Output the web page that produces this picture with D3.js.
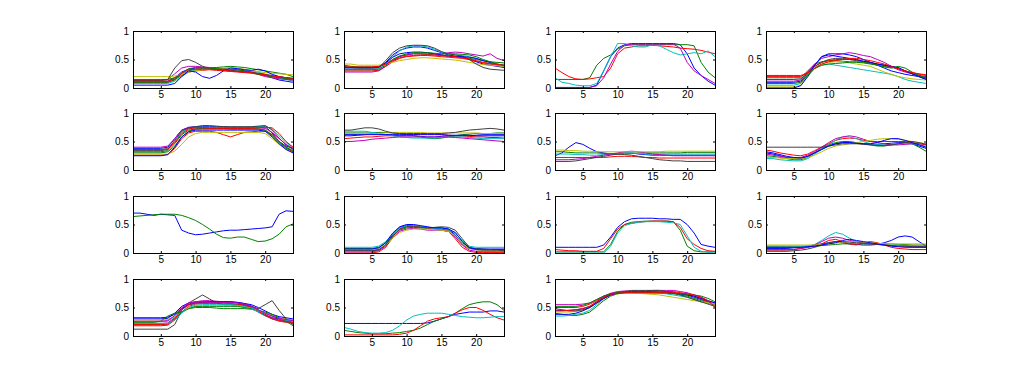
<!DOCTYPE html>
<html>
<head>
<meta charset="utf-8">
<title>Small multiples</title>
<script src="https://cdn.jsdelivr.net/npm/d3@7"></script>
<style>
  body { margin: 0; background: #fff; }
  text { font-family: "Liberation Sans", Arial, sans-serif; font-size: 10px; fill: #000; }
</style>
</head>
<body>
<script>
var xTicks = [5, 10, 15, 20];
var yTicks = [0, 0.5, 1];
var yTickLabels = ["0", "0.5", "1"];
var hours = d3.range(1, 25);
var colorOrder = ["#0000ff", "#008000", "#ff0000", "#00bfbf", "#bf00bf", "#bfbf00", "#404040"];

// one array of series per panel, reading left to right, top to bottom
var panel1 = [
  [.12,.12,.12,.12,.12,.12,.18,.28,.33,.35,.35,.34,.33,.31,.30,.29,.28,.27,.25,.22,.18,.14,.12,.10],
  [.15,.15,.15,.15,.15,.15,.18,.24,.30,.33,.34,.35,.36,.37,.38,.37,.36,.34,.32,.30,.28,.26,.24,.20],
  [.10,.10,.10,.10,.10,.10,.15,.22,.28,.30,.31,.32,.31,.30,.29,.28,.27,.26,.24,.22,.20,.18,.16,.14],
  [.08,.08,.08,.08,.08,.08,.12,.20,.28,.32,.33,.33,.34,.33,.32,.32,.31,.30,.28,.24,.20,.17,.15,.12],
  [.14,.14,.14,.14,.14,.15,.25,.35,.38,.38,.37,.36,.35,.34,.33,.32,.30,.28,.24,.20,.18,.16,.15,.14],
  [.20,.20,.20,.20,.20,.20,.21,.24,.28,.30,.32,.33,.34,.35,.36,.35,.33,.31,.29,.27,.26,.25,.24,.23],
  [.13,.13,.13,.13,.13,.15,.35,.48,.50,.45,.38,.34,.33,.32,.31,.30,.29,.28,.26,.24,.22,.20,.18,.17],
  [.05,.05,.05,.05,.05,.05,.08,.20,.30,.28,.20,.17,.22,.30,.35,.34,.32,.31,.33,.30,.24,.20,.18,.16],
  [.10,.10,.10,.10,.10,.10,.14,.26,.34,.36,.36,.35,.34,.33,.33,.32,.30,.27,.24,.22,.20,.18,.17,.16],
  [.12,.12,.12,.12,.12,.12,.16,.26,.32,.33,.33,.33,.32,.31,.30,.29,.28,.27,.25,.23,.21,.20,.18,.17]
];
var panel2 = [
  [.35,.35,.35,.35,.35,.36,.45,.58,.66,.70,.72,.72,.70,.66,.62,.58,.56,.54,.50,.46,.42,.40,.38,.36],
  [.40,.38,.37,.37,.37,.37,.42,.50,.56,.58,.60,.60,.59,.58,.57,.56,.55,.54,.52,.50,.48,.46,.45,.44],
  [.30,.30,.30,.30,.30,.31,.38,.46,.52,.55,.56,.57,.57,.56,.55,.54,.53,.52,.50,.47,.44,.42,.40,.38],
  [.33,.33,.33,.33,.33,.34,.42,.55,.65,.72,.74,.74,.72,.68,.63,.60,.58,.57,.55,.52,.48,.44,.40,.38],
  [.28,.28,.28,.28,.28,.30,.38,.48,.55,.58,.60,.60,.60,.60,.59,.62,.63,.62,.60,.58,.56,.60,.52,.48],
  [.42,.42,.40,.40,.40,.40,.42,.45,.48,.50,.52,.53,.53,.52,.51,.50,.49,.47,.45,.43,.41,.40,.39,.38],
  [.38,.36,.35,.35,.35,.36,.48,.62,.70,.74,.75,.75,.74,.70,.64,.60,.58,.56,.50,.42,.36,.33,.32,.31],
  [.36,.36,.36,.36,.36,.37,.44,.54,.60,.62,.63,.63,.62,.60,.58,.56,.55,.55,.54,.52,.48,.45,.42,.40],
  [.32,.32,.32,.32,.32,.33,.40,.50,.56,.60,.62,.62,.62,.61,.60,.60,.60,.59,.58,.55,.50,.46,.42,.40],
  [.37,.37,.37,.37,.37,.38,.42,.48,.53,.56,.57,.58,.58,.58,.57,.56,.55,.53,.51,.48,.45,.43,.41,.40]
];
var panel3 = [
  [.01,.01,.01,.01,.01,.01,.05,.30,.55,.70,.76,.78,.78,.78,.78,.78,.78,.78,.76,.60,.35,.22,.12,.05],
  [.15,.15,.15,.15,.15,.18,.40,.52,.58,.68,.74,.76,.76,.76,.76,.76,.76,.76,.76,.76,.74,.45,.28,.18],
  [.35,.27,.20,.16,.15,.16,.18,.20,.35,.60,.70,.72,.74,.74,.75,.74,.73,.72,.70,.69,.68,.66,.63,.60],
  [.18,.10,.08,.05,.04,.04,.08,.30,.55,.78,.78,.74,.72,.72,.76,.74,.68,.62,.58,.60,.62,.60,.65,.55],
  [.00,.00,.00,.00,.00,.01,.04,.18,.42,.64,.75,.77,.77,.77,.77,.77,.77,.77,.70,.45,.30,.22,.15,.08]
];
var panel4 = [
  [.10,.10,.10,.10,.10,.12,.25,.40,.55,.60,.60,.60,.58,.55,.50,.45,.40,.35,.30,.27,.24,.22,.20,.18],
  [.18,.18,.18,.18,.18,.18,.30,.42,.46,.48,.48,.47,.46,.45,.44,.42,.40,.38,.36,.34,.30,.25,.20,.15],
  [.20,.20,.20,.20,.20,.20,.28,.38,.45,.48,.50,.50,.50,.49,.47,.45,.42,.40,.37,.34,.30,.27,.24,.22],
  [.05,.05,.05,.05,.05,.08,.22,.35,.40,.42,.40,.38,.36,.34,.32,.30,.28,.26,.24,.20,.15,.12,.10,.08],
  [.12,.12,.12,.12,.12,.14,.28,.42,.52,.55,.58,.60,.62,.60,.57,.55,.50,.45,.38,.32,.28,.25,.22,.20],
  [.02,.02,.02,.02,.02,.05,.20,.35,.42,.45,.46,.46,.44,.42,.40,.38,.33,.28,.24,.20,.18,.16,.15,.14],
  [.15,.15,.15,.15,.15,.16,.25,.38,.45,.50,.52,.52,.50,.48,.46,.44,.42,.40,.38,.35,.30,.25,.20,.17],
  [.00,.00,.00,.00,.00,.04,.20,.40,.55,.58,.56,.54,.52,.50,.47,.45,.42,.40,.38,.36,.30,.25,.20,.15],
  [.08,.08,.08,.08,.08,.10,.22,.34,.40,.42,.43,.44,.45,.46,.45,.43,.40,.37,.35,.38,.35,.28,.22,.18],
  [.22,.22,.22,.22,.22,.22,.26,.35,.42,.46,.48,.50,.52,.52,.50,.48,.45,.42,.38,.34,.30,.27,.25,.23]
];
var panel5 = [
  [.38,.38,.38,.38,.38,.40,.55,.70,.75,.76,.76,.76,.76,.76,.75,.75,.75,.75,.76,.76,.65,.50,.42,.38],
  [.30,.30,.30,.30,.30,.32,.42,.58,.68,.72,.73,.73,.73,.73,.72,.72,.72,.72,.72,.70,.60,.48,.38,.32],
  [.26,.26,.26,.26,.26,.27,.38,.55,.65,.68,.68,.68,.66,.62,.58,.62,.66,.67,.68,.68,.62,.50,.40,.32],
  [.36,.36,.36,.36,.36,.38,.50,.66,.73,.75,.75,.75,.75,.75,.75,.75,.75,.75,.76,.77,.72,.60,.48,.40],
  [.40,.40,.40,.40,.40,.42,.55,.70,.74,.74,.74,.74,.74,.74,.74,.74,.74,.74,.74,.73,.66,.55,.45,.38],
  [.28,.28,.28,.28,.28,.28,.33,.45,.58,.64,.66,.66,.66,.66,.66,.66,.66,.66,.66,.64,.55,.45,.36,.30],
  [.34,.34,.34,.34,.34,.36,.52,.68,.74,.76,.78,.78,.77,.76,.76,.76,.76,.76,.77,.78,.70,.56,.44,.36],
  [.25,.25,.25,.25,.25,.27,.40,.58,.67,.70,.70,.70,.70,.70,.70,.70,.70,.70,.70,.68,.58,.46,.36,.30],
  [.32,.32,.32,.32,.32,.34,.46,.62,.70,.72,.72,.72,.72,.72,.72,.72,.72,.72,.72,.70,.62,.50,.40,.34],
  [.36,.36,.36,.36,.36,.37,.48,.64,.72,.74,.74,.73,.73,.73,.73,.73,.73,.73,.74,.75,.74,.64,.50,.40]
];
var panel6 = [
  [.60,.60,.61,.62,.63,.63,.62,.61,.60,.60,.60,.59,.58,.58,.59,.60,.60,.60,.60,.61,.62,.62,.62,.62],
  [.65,.65,.65,.65,.65,.66,.66,.65,.64,.62,.60,.58,.56,.55,.56,.58,.60,.62,.63,.64,.64,.64,.65,.65],
  [.55,.56,.57,.58,.58,.59,.60,.60,.60,.61,.62,.63,.63,.63,.62,.61,.60,.60,.59,.58,.58,.57,.57,.56],
  [.68,.68,.68,.68,.66,.64,.62,.60,.58,.57,.56,.56,.56,.56,.57,.58,.58,.58,.57,.56,.55,.55,.55,.55],
  [.50,.50,.51,.52,.54,.55,.56,.57,.58,.58,.58,.58,.58,.58,.58,.58,.57,.56,.55,.54,.53,.52,.51,.50],
  [.63,.63,.63,.63,.63,.64,.65,.66,.66,.66,.66,.66,.65,.65,.65,.65,.65,.65,.65,.65,.64,.64,.64,.64],
  [.70,.70,.72,.74,.74,.72,.68,.65,.64,.64,.64,.64,.64,.64,.64,.65,.66,.68,.70,.71,.72,.73,.72,.70],
  [.62,.62,.62,.62,.62,.62,.62,.62,.62,.62,.62,.62,.62,.62,.62,.61,.61,.61,.61,.60,.60,.60,.60,.60]
];
var panel7 = [
  [.25,.30,.40,.48,.45,.38,.32,.30,.28,.28,.30,.30,.28,.27,.26,.26,.26,.26,.26,.26,.26,.26,.26,.26],
  [.32,.32,.31,.30,.30,.30,.30,.29,.29,.28,.28,.29,.30,.30,.30,.30,.30,.30,.30,.31,.31,.31,.31,.31],
  [.22,.22,.22,.22,.22,.22,.22,.22,.23,.24,.24,.24,.23,.22,.22,.21,.21,.21,.21,.21,.21,.21,.21,.21],
  [.28,.28,.28,.27,.27,.26,.26,.27,.28,.29,.30,.30,.29,.28,.28,.28,.28,.28,.28,.28,.28,.28,.28,.28],
  [.18,.18,.18,.19,.20,.22,.24,.26,.28,.30,.32,.33,.32,.30,.28,.27,.26,.25,.25,.25,.25,.25,.25,.25],
  [.35,.35,.34,.34,.33,.33,.32,.32,.32,.32,.32,.32,.32,.32,.32,.32,.33,.33,.33,.33,.33,.33,.33,.33],
  [.15,.15,.15,.16,.18,.20,.22,.24,.26,.28,.27,.26,.24,.22,.20,.18,.17,.16,.16,.15,.15,.15,.15,.15]
];
var panel8 = [
  [.30,.28,.25,.22,.20,.20,.24,.30,.36,.42,.46,.48,.48,.47,.46,.45,.45,.46,.47,.48,.48,.46,.42,.38],
  [.25,.24,.22,.20,.18,.18,.22,.30,.38,.44,.48,.50,.50,.48,.46,.44,.42,.42,.44,.46,.48,.46,.40,.33],
  [.35,.33,.30,.28,.26,.25,.28,.34,.40,.46,.52,.55,.56,.55,.52,.50,.50,.50,.50,.50,.50,.48,.46,.44],
  [.20,.20,.18,.17,.16,.16,.20,.28,.36,.44,.52,.58,.58,.55,.50,.46,.44,.44,.45,.46,.46,.46,.44,.42],
  [.28,.26,.24,.22,.22,.22,.26,.32,.40,.48,.55,.58,.60,.58,.54,.50,.48,.46,.44,.44,.45,.46,.46,.46],
  [.22,.22,.21,.20,.20,.20,.22,.26,.32,.38,.42,.44,.46,.48,.50,.52,.54,.55,.55,.54,.52,.50,.48,.46],
  [.40,.40,.40,.40,.40,.40,.40,.40,.40,.42,.44,.46,.46,.46,.45,.44,.43,.43,.44,.46,.48,.50,.48,.45],
  [.32,.30,.27,.24,.22,.21,.24,.30,.36,.42,.46,.48,.48,.47,.46,.46,.48,.52,.55,.55,.52,.48,.44,.40]
];
var panel9 = [
  [.70,.70,.68,.66,.68,.67,.66,.40,.35,.32,.33,.35,.37,.39,.40,.40,.41,.42,.43,.44,.46,.68,.74,.73],
  [.64,.65,.66,.67,.68,.68,.68,.66,.62,.57,.50,.42,.33,.27,.26,.28,.28,.24,.20,.21,.25,.33,.46,.51]
];
var panel10 = [
  [.05,.05,.05,.05,.05,.06,.15,.32,.45,.48,.48,.46,.45,.44,.44,.42,.32,.15,.08,.06,.06,.06,.06,.05],
  [.08,.08,.08,.08,.08,.10,.18,.30,.40,.44,.45,.44,.43,.42,.42,.40,.30,.18,.10,.08,.07,.06,.06,.06],
  [.00,.00,.00,.00,.00,.02,.10,.28,.42,.46,.47,.46,.44,.42,.40,.38,.25,.10,.03,.01,.01,.01,.01,.01],
  [.10,.10,.10,.10,.10,.12,.20,.34,.44,.47,.48,.47,.45,.43,.43,.42,.35,.22,.12,.10,.10,.10,.10,.10],
  [.02,.02,.02,.02,.02,.04,.12,.26,.38,.42,.43,.42,.40,.40,.40,.38,.28,.14,.05,.03,.03,.03,.03,.03],
  [.06,.06,.06,.06,.06,.08,.14,.26,.36,.40,.42,.42,.42,.41,.40,.38,.30,.16,.08,.06,.05,.05,.04,.04],
  [.04,.04,.04,.04,.04,.05,.14,.30,.42,.46,.46,.45,.44,.45,.46,.45,.40,.25,.10,.06,.05,.05,.05,.04],
  [.07,.07,.07,.07,.07,.09,.18,.35,.46,.50,.50,.48,.46,.44,.44,.42,.36,.20,.09,.07,.07,.07,.07,.07]
];
var panel11 = [
  [.10,.10,.10,.10,.10,.10,.10,.14,.28,.45,.55,.60,.61,.61,.61,.60,.60,.59,.59,.50,.35,.15,.12,.10],
  [.02,.02,.02,.02,.02,.02,.02,.02,.15,.38,.50,.54,.55,.56,.56,.56,.56,.55,.40,.12,.04,.02,.02,.02],
  [.06,.05,.04,.04,.03,.03,.03,.08,.25,.42,.50,.52,.54,.55,.56,.56,.56,.55,.45,.25,.15,.08,.04,.03],
  [.00,.00,.00,.00,.00,.00,.00,.00,.12,.35,.48,.52,.54,.55,.55,.55,.54,.53,.50,.30,.10,.03,.01,.00]
];
var panel12 = [
  [.08,.08,.08,.08,.09,.10,.12,.14,.16,.18,.20,.18,.16,.15,.14,.14,.15,.18,.22,.28,.30,.28,.20,.12],
  [.12,.12,.12,.12,.12,.12,.12,.12,.13,.14,.15,.16,.16,.16,.16,.16,.16,.16,.16,.15,.15,.14,.14,.14],
  [.05,.05,.05,.05,.06,.08,.10,.12,.16,.22,.24,.20,.16,.14,.18,.20,.18,.14,.10,.08,.07,.06,.06,.06],
  [.10,.10,.10,.10,.10,.11,.12,.15,.22,.30,.36,.33,.26,.20,.18,.17,.16,.15,.14,.14,.13,.13,.12,.12],
  [.06,.06,.06,.06,.06,.08,.10,.14,.20,.26,.28,.26,.22,.20,.18,.16,.15,.14,.13,.12,.12,.11,.11,.10],
  [.14,.14,.14,.14,.14,.14,.14,.14,.15,.16,.18,.19,.20,.20,.19,.18,.17,.16,.16,.16,.16,.16,.16,.16],
  [.03,.03,.03,.03,.04,.05,.07,.10,.14,.18,.20,.20,.19,.18,.17,.16,.15,.14,.13,.12,.12,.11,.11,.11],
  [.10,.10,.10,.10,.10,.10,.11,.12,.14,.16,.18,.22,.24,.22,.20,.18,.16,.14,.12,.11,.10,.10,.10,.10]
];
var panel13 = [
  [.30,.30,.30,.30,.30,.31,.40,.52,.58,.60,.60,.60,.60,.60,.60,.58,.55,.50,.42,.36,.32,.30,.28,.27],
  [.20,.20,.20,.20,.20,.21,.30,.42,.48,.50,.50,.50,.49,.48,.48,.48,.48,.47,.44,.40,.35,.30,.26,.24],
  [.18,.18,.18,.18,.18,.19,.28,.42,.52,.56,.57,.57,.57,.57,.56,.55,.53,.50,.45,.38,.30,.26,.24,.22],
  [.25,.25,.25,.25,.25,.26,.34,.46,.54,.57,.58,.58,.58,.57,.56,.55,.52,.48,.42,.35,.30,.27,.25,.23],
  [.22,.22,.22,.22,.22,.23,.32,.48,.56,.60,.62,.62,.61,.60,.60,.59,.57,.53,.46,.38,.32,.28,.26,.24],
  [.28,.28,.28,.28,.28,.29,.34,.42,.48,.52,.53,.54,.54,.54,.54,.53,.51,.48,.44,.40,.36,.32,.30,.28],
  [.12,.12,.12,.12,.12,.12,.20,.45,.58,.65,.72,.65,.58,.55,.55,.55,.54,.52,.48,.55,.62,.45,.30,.20],
  [.32,.32,.32,.32,.32,.33,.38,.48,.55,.58,.59,.60,.60,.60,.60,.59,.57,.55,.50,.44,.38,.34,.32,.30],
  [.24,.24,.24,.24,.26,.35,.40,.42,.48,.52,.52,.52,.52,.52,.52,.52,.50,.48,.45,.42,.38,.32,.26,.18],
  [.20,.20,.20,.20,.20,.21,.30,.46,.55,.58,.58,.58,.58,.58,.57,.56,.54,.50,.44,.36,.30,.27,.25,.24],
  [.22,.22,.22,.22,.22,.22,.28,.40,.50,.54,.55,.55,.55,.55,.55,.54,.52,.49,.45,.40,.35,.31,.28,.26],
  [.26,.26,.26,.26,.26,.27,.36,.50,.58,.60,.60,.59,.59,.59,.59,.58,.56,.52,.46,.40,.35,.31,.29,.27]
];
var panel14 = [
  [.22,.22,.22,.22,.22,.22,.22,.22,.22,.22,.22,.22,.23,.26,.30,.34,.38,.40,.42,.42,.42,.44,.44,.42],
  [.10,.08,.06,.05,.04,.04,.04,.05,.06,.08,.10,.14,.20,.26,.30,.34,.40,.48,.55,.58,.60,.60,.55,.45],
  [.02,.02,.02,.02,.02,.02,.02,.02,.03,.05,.10,.18,.26,.30,.32,.34,.40,.46,.50,.50,.45,.38,.32,.28],
  [.15,.12,.08,.06,.05,.05,.06,.10,.18,.28,.35,.38,.40,.40,.40,.38,.36,.34,.33,.32,.32,.33,.34,.34]
];
var panel15 = [
  [.45,.45,.45,.46,.48,.52,.60,.68,.74,.76,.77,.77,.77,.77,.77,.77,.77,.76,.74,.72,.68,.64,.60,.55],
  [.40,.38,.36,.36,.38,.42,.52,.62,.70,.74,.76,.76,.76,.76,.76,.76,.75,.74,.72,.70,.66,.62,.58,.54],
  [.50,.50,.50,.50,.52,.56,.62,.70,.74,.76,.78,.78,.78,.78,.78,.78,.78,.78,.76,.74,.70,.65,.60,.55],
  [.35,.35,.36,.38,.40,.45,.55,.65,.72,.75,.76,.76,.76,.75,.75,.75,.74,.72,.70,.68,.64,.60,.58,.56],
  [.55,.55,.55,.55,.56,.58,.64,.70,.75,.78,.79,.79,.79,.79,.80,.80,.80,.80,.78,.76,.72,.68,.62,.58],
  [.42,.42,.42,.43,.45,.50,.58,.66,.72,.74,.75,.75,.75,.74,.73,.72,.70,.68,.66,.64,.62,.60,.58,.56],
  [.48,.46,.44,.44,.46,.50,.58,.66,.72,.76,.78,.80,.80,.80,.80,.80,.78,.76,.72,.68,.64,.60,.56,.52],
  [.38,.38,.38,.40,.44,.50,.58,.66,.72,.75,.76,.77,.77,.77,.77,.76,.76,.75,.74,.72,.70,.66,.62,.58],
  [.52,.52,.52,.52,.54,.58,.64,.70,.74,.76,.76,.76,.76,.76,.76,.76,.76,.75,.74,.73,.72,.70,.66,.60],
  [.44,.44,.45,.46,.48,.52,.60,.68,.73,.75,.76,.76,.76,.76,.76,.76,.76,.76,.75,.74,.72,.68,.62,.50]
];
var panels = [panel1, panel2, panel3, panel4, panel5, panel6, panel7, panel8,
              panel9, panel10, panel11, panel12, panel13, panel14, panel15];

var W = 1024, H = 378;
var pw = 160, ph = 57;
var colLeft = [133, 344, 555, 766];
var rowTop = [31, 113, 196, 279];

var svg = d3.select("body").append("svg")
    .attr("width", W)
    .attr("height", H);

var x = d3.scaleLinear().domain([1, 24]).range([0, pw]);
var y = d3.scaleLinear().domain([0, 1]).range([ph, 0]);

var line = d3.line()
    .x(function(d, i) { return x(hours[i]); })
    .y(function(d) { return y(d); });

panels.forEach(function(series, p) {
    var g = svg.append("g")
        .attr("transform", "translate(" + colLeft[p % 4] + "," + rowTop[Math.floor(p / 4)] + ")");

    g.append("defs").append("clipPath")
        .attr("id", "clip" + p)
        .append("rect")
        .attr("width", pw)
        .attr("height", ph);

    g.append("g")
        .attr("clip-path", "url(#clip" + p + ")")
        .selectAll("path")
        .data(series)
        .enter()
        .append("path")
        .attr("d", line)
        .attr("fill", "none")
        .attr("stroke", function(d, i) { return colorOrder[i % colorOrder.length]; })
        .attr("stroke-width", 1);

    // ticks point inward, on all four sides
    var bottom = g.append("g")
        .attr("transform", "translate(0," + ph + ")")
        .call(d3.axisBottom(x).tickValues(xTicks).tickSizeInner(-2).tickSizeOuter(0).tickPadding(3));
    var top = g.append("g")
        .call(d3.axisTop(x).tickValues(xTicks).tickSizeInner(-2).tickSizeOuter(0).tickFormat(""));
    var left = g.append("g")
        .call(d3.axisLeft(y).tickValues(yTicks).tickSizeInner(-2).tickSizeOuter(0).tickPadding(4)
            .tickFormat(function(d, i) { return yTickLabels[i]; }));
    var right = g.append("g")
        .attr("transform", "translate(" + pw + ",0)")
        .call(d3.axisRight(y).tickValues(yTicks).tickSizeInner(-2).tickSizeOuter(0).tickFormat(""));

    [bottom, top, left, right].forEach(function(a) {
        a.select(".domain").remove();
        a.selectAll("line").attr("stroke", "#000");
        a.selectAll("text").attr("font-family", null).attr("font-size", null);
    });

    g.append("rect")
        .attr("width", pw)
        .attr("height", ph)
        .attr("fill", "none")
        .attr("stroke", "#000")
        .attr("stroke-width", 1)
        .attr("shape-rendering", "crispEdges");
});
</script>
</body>
</html>
